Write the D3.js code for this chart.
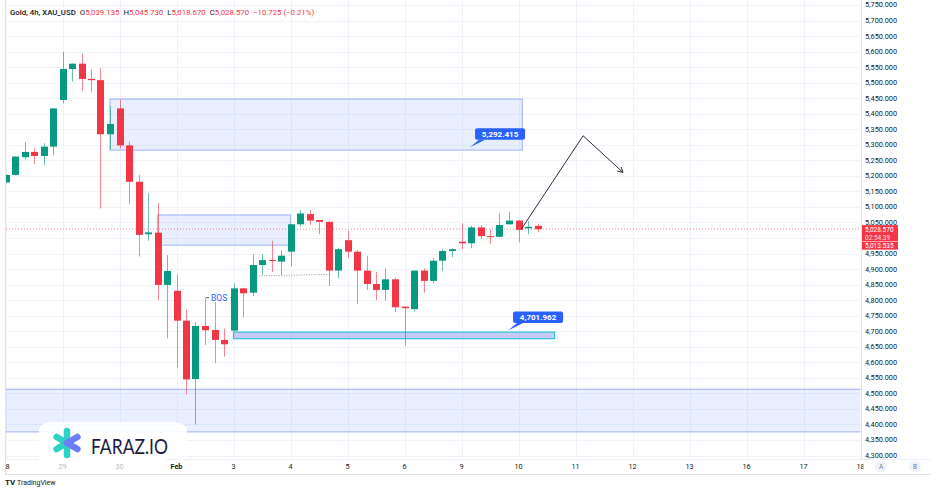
<!DOCTYPE html>
<html>
<head>
<meta charset="utf-8">
<script src="https://cdn.jsdelivr.net/npm/d3@7"></script>
<style>
  body { margin: 0; background: #ffffff; }
  svg { display: block; font-family: Roboto, "Liberation Sans", sans-serif; }
</style>
</head>
<body>
<script>
// 4h candles, one per bar index (0 = first bar of 28 Jan)
var opens  = [5179,5203,5260,5277,5264,5294,5444,5544,5561,5512,5508,5334,5417,5298,5181,5012,5017,4849,4830,4734,4546,4717,4704,4672,4702,4838,4824,4913,4929,4924,4956,5044,5077,5058,5052,4895,4993,4956,4895,4852,4833,4867,4779,4771,4895,4862,4927,4958,4988,4983,5034,5006,5004,5044,5056,5031,5039.135];
var highs  = [5204,5264,5309,5289,5305,5418,5600,5562,5594,5543,5546,5425,5446,5310,5203,5144,5112,4945,4883,4770,4730,4808,4793,4709,4854,4839,4948,4948,4991,4961,5045,5090,5090,5058,5053,4969,5022,4961,4942,4891,4902,4873,4779,4895,4902,4935,4964,4967,5047,5039,5042,5026,5080,5085,5058,5055,5045.73];
var lows   = [5177,5201,5253,5238,5235,5267,5433,5503,5473,5469,5095,5283,5289,5109,4940,4991,4800,4677,4584,4497,4400,4656,4597,4618,4698,4745,4813,4881,4891,4881,4908,5036,5042,5012,4846,4870,4935,4788,4833,4800,4798,4761,4653,4761,4824,4854,4894,4938,4964,4967,4996,4981,5002,5044,4986,5012,5018.67];
var closes = [5203,5262,5277,5264,5294,5417,5544,5561,5512,5508,5334,5367,5298,5181,5010,5018,4849,4894,4734,4545,4717,4703,4672,4658,4838,4822,4913,4929,4926,4943,5044,5079,5056,5052,4895,4964,4956,4895,4852,4833,4867,4777,4774,4895,4862,4927,4958,4964,4983,5034,5006,5004,5042,5056,5026,5036,5028.57];

// day labels, one every 6 bars
var dayLabels = ["28","29","30","Feb","3","4","5","6","9","10","11","12","13","16","17","18"];
var priceTicks = d3.range(4300, 5751, 50);

// drawn zones: [startBar, endBar, lowPrice, highPrice]
var zoneStart = [11, 16, -2, 24];
var zoneEnd   = [54.4, 30, 96, 57.8];
var zoneLow   = [5283, 4977, 4376, 4676];
var zoneHigh  = [5447, 5074, 4513, 4697];

// price callouts
var calloutValues = [5292.415, 4701.962];
var calloutBars   = [48.9, 52.9];

// projection arrow path
var arrowBars   = [54.3, 60.8, 65.0];
var arrowPrices = [5028.6, 5329, 5211];

// BOS line and dotted swing line
var bosBars = [21, 24.3], bosPrice = 4808;
var swingBars = [26.4, 34.2], swingPrices = [4878, 4883];

// price axis badges
var lastPrice = 5028.57, countdown = "02:54:39", otherPrice = 5013.535;

var W = 936, H = 492;
var green = "#089981", red = "#F23645";

var x = d3.scaleLinear().domain([0, 90]).range([5.5, 860.5]);
var y = d3.scaleLinear().domain([4300, 5700]).range([455.5, 20.5]);
var fmt = d3.format(",.3f");

var svg = d3.select("body").append("svg")
    .attr("width", W)
    .attr("height", H);

var defs = svg.append("defs");
defs.append("clipPath").attr("id", "plot-clip")
    .append("rect").attr("x", 5.5).attr("y", 0).attr("width", 855).attr("height", 459);
defs.append("clipPath").attr("id", "plot-clip-x")
    .append("rect").attr("x", 5.5).attr("y", 459).attr("width", 858).attr("height", 16);

//Grid
var grid = svg.append("g").attr("clip-path", "url(#plot-clip)");
grid.selectAll(".hg").data(priceTicks).enter().append("line")
    .attr("x1", 5).attr("x2", 861)
    .attr("y1", function(d) { return Math.round(y(d)) + 0.5; })
    .attr("y2", function(d) { return Math.round(y(d)) + 0.5; })
    .attr("stroke", "#f0f3fa");
grid.selectAll(".vg").data(dayLabels).enter().append("line")
    .attr("x1", function(d, i) { return Math.round(x(i * 6)) + 0.5; })
    .attr("x2", function(d, i) { return Math.round(x(i * 6)) + 0.5; })
    .attr("y1", 0).attr("y2", 459)
    .attr("stroke", "#f0f3fa");

var plot = svg.append("g").attr("clip-path", "url(#plot-clip)");

//Zones
plot.selectAll(".zone").data(zoneStart).enter().append("rect")
    .attr("x", function(d, i) { return x(zoneStart[i]); })
    .attr("y", function(d, i) { return y(zoneHigh[i]); })
    .attr("width", function(d, i) { return x(zoneEnd[i]) - x(zoneStart[i]); })
    .attr("height", function(d, i) { return y(zoneLow[i]) - y(zoneHigh[i]); })
    .attr("fill", function(d, i) { return i == 3 ? "rgba(70,80,225,0.3)" : "rgba(41,98,255,0.1)"; })
    .attr("stroke", function(d, i) { return i == 3 ? "#3cc4dc" : "#a9bbf7"; })
    .attr("stroke-width", function(d, i) { return i == 3 ? 1.3 : 1.2; });

//Last price line
plot.append("line")
    .attr("x1", 0).attr("x2", 861)
    .attr("y1", y(lastPrice)).attr("y2", y(lastPrice))
    .attr("stroke", red).attr("stroke-opacity", 0.6)
    .attr("stroke-dasharray", "1,2");

//Swing dotted line
plot.append("line")
    .attr("x1", x(swingBars[0])).attr("x2", x(swingBars[1]))
    .attr("y1", y(swingPrices[0])).attr("y2", y(swingPrices[1]))
    .attr("stroke", "#9598a1").attr("stroke-dasharray", "1,1.5");

//BOS
plot.append("line")
    .attr("x1", x(bosBars[0]) + 1).attr("x2", x(bosBars[0]) + 4)
    .attr("y1", y(bosPrice)).attr("y2", y(bosPrice))
    .attr("stroke", "#5d606b");
plot.append("line")
    .attr("x1", x(bosBars[1]) - 6).attr("x2", x(bosBars[1]) - 3)
    .attr("y1", y(bosPrice)).attr("y2", y(bosPrice))
    .attr("stroke", "#5d606b");
plot.append("text")
    .attr("x", (x(bosBars[0]) + x(bosBars[1])) / 2 - 1.5)
    .attr("y", y(bosPrice) + 3)
    .attr("text-anchor", "middle")
    .attr("font-size", 8.5)
    .attr("fill", "#2962FF")
    .text("BOS");

//Candles
var candles = plot.selectAll(".candle").data(opens).enter().append("g");
candles.append("line")
    .attr("x1", function(d, i) { return Math.round(x(i)) + 0.5; })
    .attr("x2", function(d, i) { return Math.round(x(i)) + 0.5; })
    .attr("y1", function(d, i) { return y(highs[i]); })
    .attr("y2", function(d, i) { return y(lows[i]); })
    .attr("stroke", function(d, i) { return closes[i] >= opens[i] ? green : red; })
    .attr("stroke-opacity", 0.6);
candles.append("rect")
    .attr("x", function(d, i) { return Math.round(x(i)) - 3; })
    .attr("width", 7)
    .attr("y", function(d, i) { return y(Math.max(opens[i], closes[i])); })
    .attr("height", function(d, i) { return Math.max(1, Math.abs(y(opens[i]) - y(closes[i]))); })
    .attr("fill", function(d, i) { return closes[i] >= opens[i] ? green : red; });

//Arrow
var arrowLine = d3.line()
    .x(function(d, i) { return x(arrowBars[i]); })
    .y(function(d, i) { return y(arrowPrices[i]); });
plot.append("path")
    .attr("d", arrowLine(arrowBars))
    .attr("fill", "none")
    .attr("stroke", "#2a2e39")
    .attr("stroke-width", 1);
var ax = x(arrowBars[2]), ay = y(arrowPrices[2]);
var ang = Math.atan2(ay - y(arrowPrices[1]), ax - x(arrowBars[1]));
[-0.5, 0.5].forEach(function(o) {
    plot.append("line")
        .attr("x1", ax).attr("y1", ay)
        .attr("x2", ax - 6 * Math.cos(ang + o)).attr("y2", ay - 6 * Math.sin(ang + o))
        .attr("stroke", "#2a2e39");
});

//Callouts
calloutValues.forEach(function(v, i) {
    var tx = x(calloutBars[i]), ty = y(v);
    var left = tx + 5, bottom = ty - 7.5;
    plot.append("path")
        .attr("d", "M" + tx + "," + ty + "L" + (left + 4) + "," + bottom + "L" + (left + 10) + "," + bottom + "Z")
        .attr("fill", "#2962FF");
    plot.append("rect")
        .attr("x", left).attr("y", bottom - 11.5)
        .attr("width", 50).attr("height", 11.5)
        .attr("rx", 2)
        .attr("fill", "#2962FF");
    plot.append("text")
        .attr("x", left + 25).attr("y", bottom - 3)
        .attr("text-anchor", "middle")
        .attr("font-size", 8).attr("font-weight", "bold")
        .attr("fill", "#ffffff")
        .text(fmt(v));
});

//Frame and axis separators
svg.append("line").attr("x1", 5.5).attr("x2", 5.5).attr("y1", 0).attr("y2", 475).attr("stroke", "#e0e3eb");
svg.append("line").attr("x1", 861.5).attr("x2", 861.5).attr("y1", 0).attr("y2", 459).attr("stroke", "#e0e3eb");
svg.append("line").attr("x1", 5).attr("x2", 931).attr("y1", 459.5).attr("y2", 459.5).attr("stroke", "#eef0f4");
svg.append("line").attr("x1", 5).attr("x2", 931).attr("y1", 474.5).attr("y2", 474.5).attr("stroke", "#e0e3eb");

//Price axis (labels under the price badges are hidden)
var by = y(lastPrice);
var yAxis = svg.append("g");
yAxis.selectAll("text").data(priceTicks.filter(function(d) {
        return y(d) < by - 6 || y(d) > by + 23;
    })).enter().append("text")
    .attr("x", 865)
    .attr("y", function(d) { return y(d) + 2.5; })
    .attr("font-size", 7.3)
    .attr("fill", "#131722")
    .text(function(d) { return fmt(d); });

//Price badges
yAxis.append("rect").attr("x", 862).attr("y", by - 4).attr("width", 36).attr("height", 16).attr("fill", red);
yAxis.append("rect").attr("x", 862).attr("y", by + 12.5).attr("width", 36).attr("height", 8).attr("fill", red);
yAxis.append("text").attr("x", 865).attr("y", by + 2.4).attr("font-size", 6.5).attr("fill", "#fff").text(fmt(lastPrice));
yAxis.append("text").attr("x", 865).attr("y", by + 10.5).attr("font-size", 6.5).attr("fill", "#fff").attr("fill-opacity", 0.85).text(countdown);
yAxis.append("text").attr("x", 865).attr("y", by + 18.8).attr("font-size", 6.5).attr("fill", "#fff").text(fmt(otherPrice));

//FARAZ.IO watermark (drawn under the time axis labels)
var wm = svg.append("g");
wm.append("path")
    .attr("d", "M39,474 L39,432 Q39,422 52,422 L172,422 Q187,422 187,432 L187,459 L166,459 L166,474 Z")
    .attr("fill", "#ffffff").attr("fill-opacity", 0.9);
var cx = 67, cy = 443;
[[90, "#2dd3c5"], [150, "#2dd3c5"], [210, "#2dd3c5"], [270, "#2dd3c5"], [30, "#6d7cf7"], [330, "#6d7cf7"]].forEach(function(a) {
    var r = a[0] * Math.PI / 180;
    wm.append("line")
        .attr("x1", cx).attr("y1", cy)
        .attr("x2", cx + 12 * Math.cos(r)).attr("y2", cy - 12 * Math.sin(r))
        .attr("stroke", a[1]).attr("stroke-width", 6.5).attr("stroke-linecap", "round");
});
wm.append("text")
    .attr("x", 91).attr("y", 453.5)
    .attr("font-family", "Lato, 'Open Sans', sans-serif")
    .attr("font-size", 21.5)
    .attr("textLength", 77)
    .attr("lengthAdjust", "spacingAndGlyphs")
    .attr("fill", "#1e1b45")
    .text("FARAZ.IO");

//Time axis
var xAxis = svg.append("g").attr("clip-path", "url(#plot-clip-x)");
xAxis.selectAll("text").data(dayLabels).enter().append("text")
    .attr("x", function(d, i) { return x(i * 6); })
    .attr("y", 469)
    .attr("text-anchor", "middle")
    .attr("font-size", 7.3)
    .attr("font-weight", function(d) { return d == "Feb" ? "bold" : "normal"; })
    .attr("fill", "#131722")
    .attr("fill-opacity", function(d) { return d == "29" || d == "30" ? 0.35 : 1; })
    .text(function(d) { return d; });

// A / B buttons
[["A", 881], ["B", 915]].forEach(function(b) {
    svg.append("circle").attr("cx", b[1]).attr("cy", 466.5).attr("r", 6).attr("fill", "#f0f3fa");
    svg.append("text").attr("x", b[1]).attr("y", 469).attr("text-anchor", "middle")
        .attr("font-size", 6.5).attr("fill", "#787b86").text(b[0]);
});

//Header legend
var head = svg.append("text").attr("x", 10).attr("y", 14.5).attr("font-size", 7.8).attr("fill", "#131722");
head.append("tspan").attr("font-weight", 500).text("Gold, 4h, XAU_USD");
var ohlc = [["O", opens], ["H", highs], ["L", lows], ["C", closes]];
ohlc.forEach(function(p) {
    head.append("tspan").attr("dx", 4).text(p[0]);
    head.append("tspan").attr("fill", red).text(fmt(p[1][p[1].length - 1]));
});
head.append("tspan").attr("dx", 4).attr("fill", red).text("\u221210.725 (\u22120.21%)");

//TradingView footer
var tv = svg.append("g");
tv.append("text").attr("x", 5).attr("y", 485).attr("font-size", 8).attr("font-weight", "bold").attr("fill", "#131722").text("TV");
tv.append("text").attr("x", 17).attr("y", 485).attr("font-size", 7).attr("fill", "#131722").text("TradingView");
</script>
</body>
</html>
